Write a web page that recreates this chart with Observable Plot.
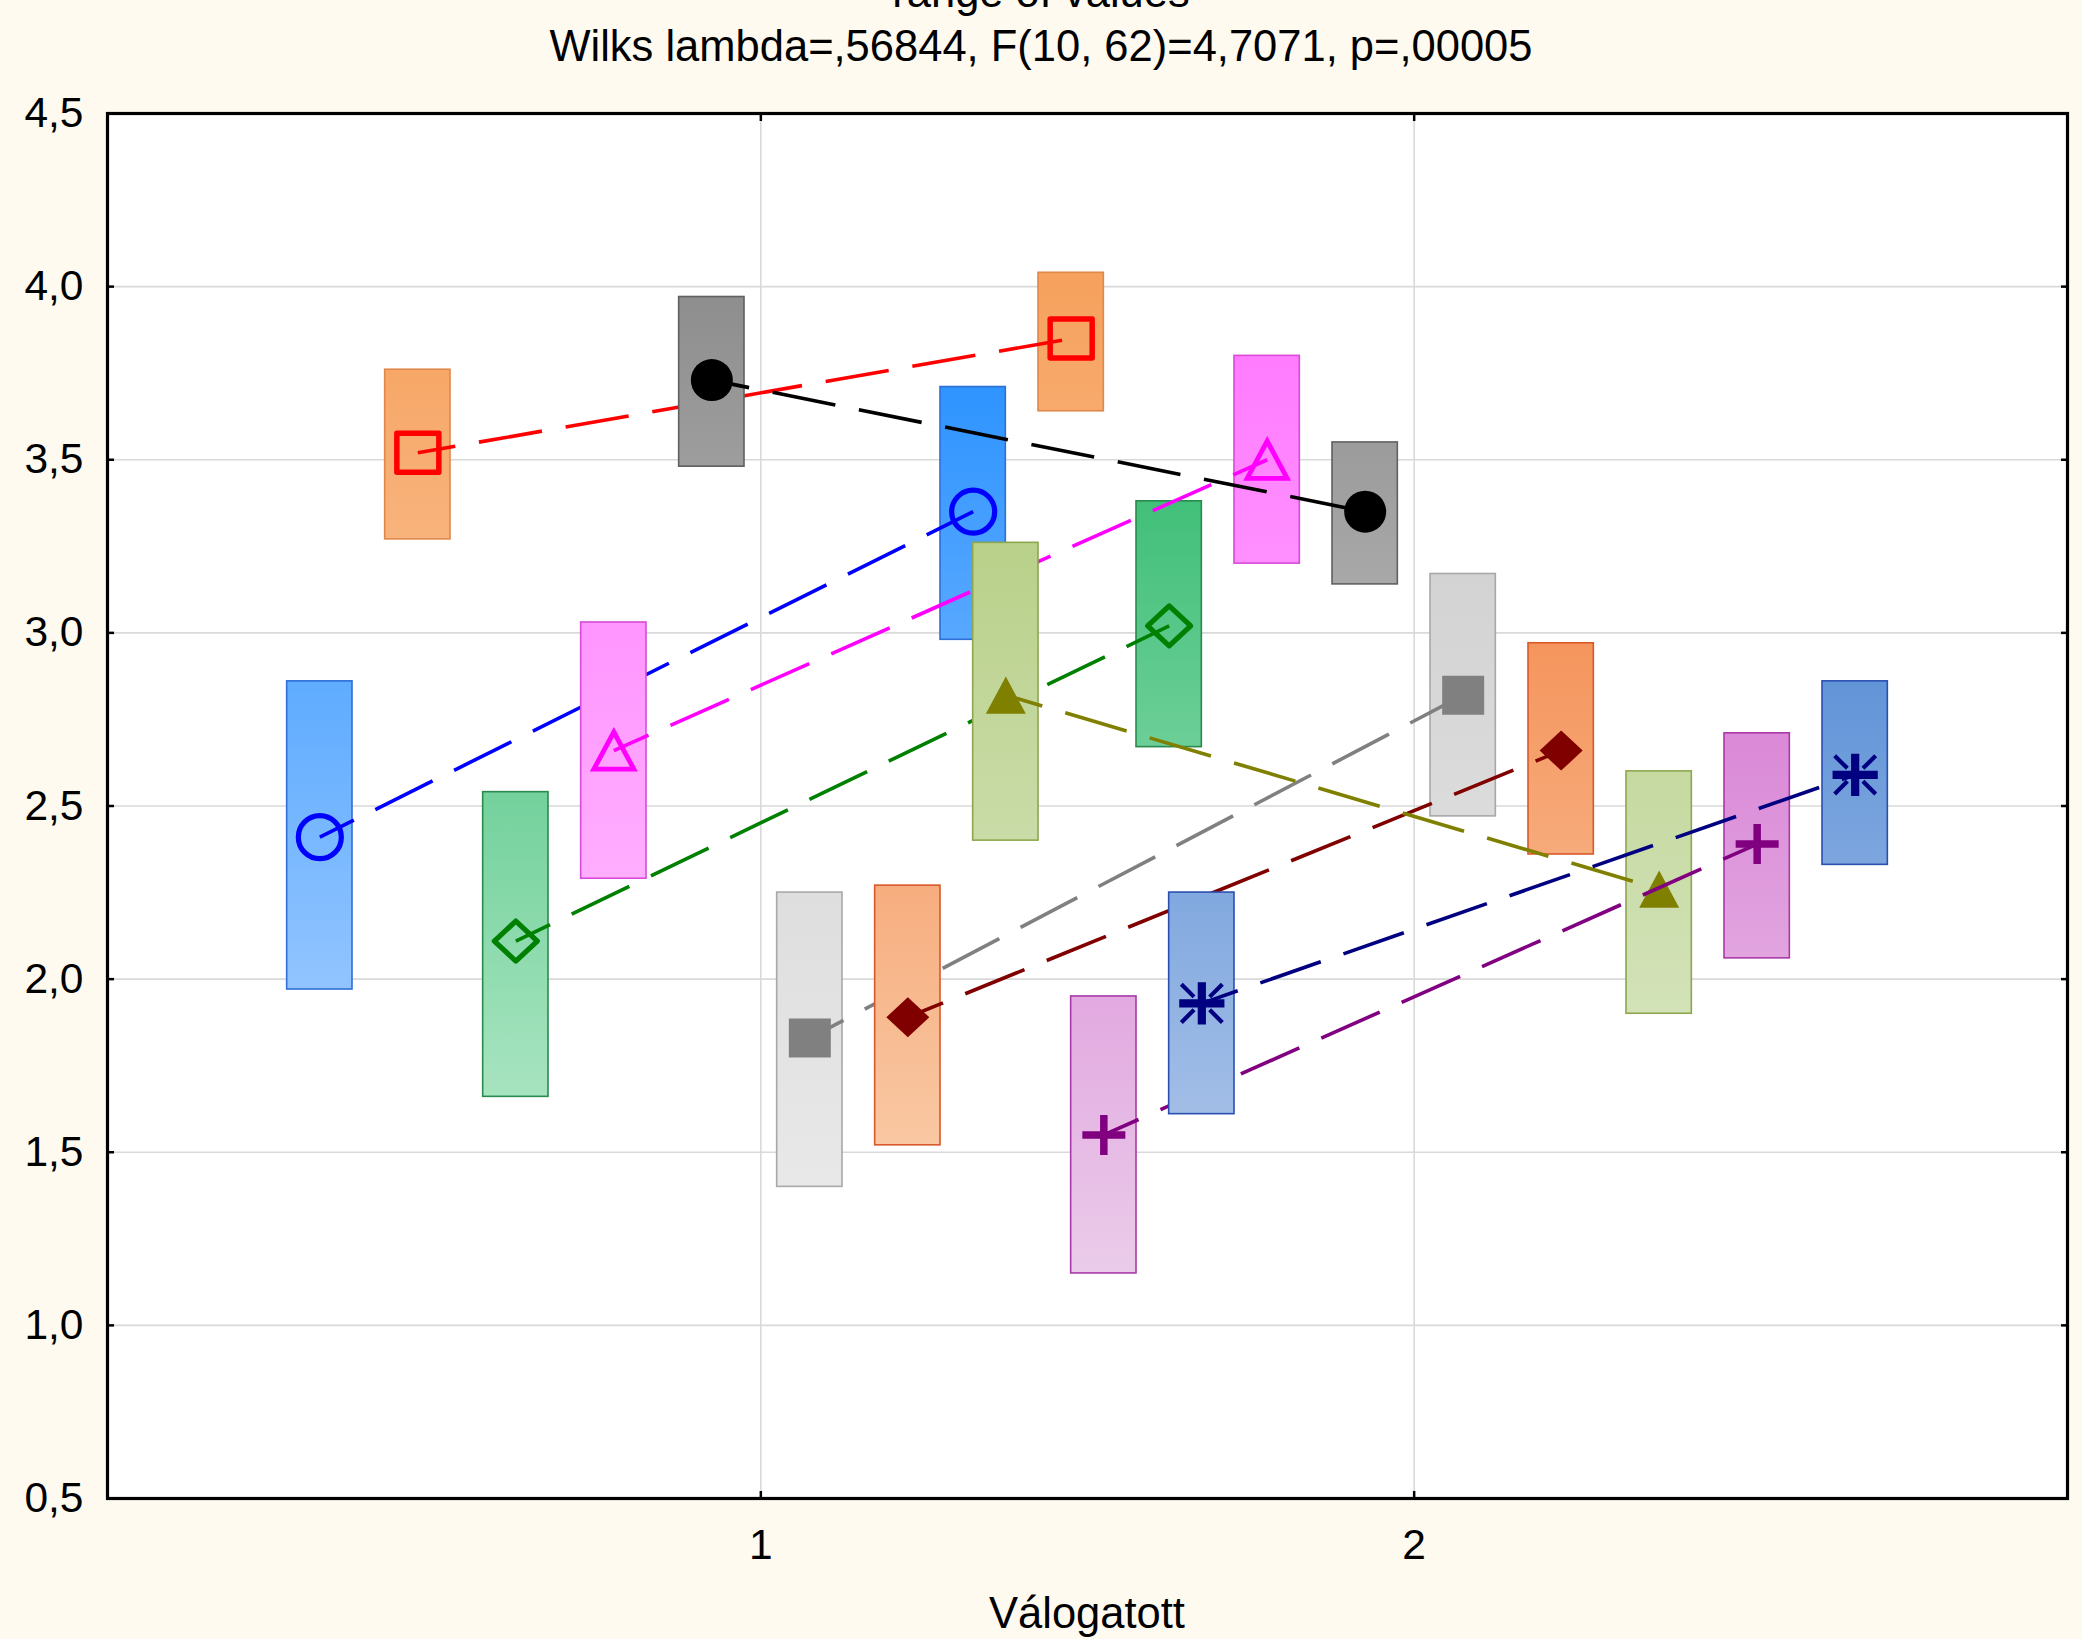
<!DOCTYPE html>
<html>
<head>
<meta charset="utf-8">
<script src="https://cdn.jsdelivr.net/npm/d3@7"></script>
<script src="https://cdn.jsdelivr.net/npm/@observablehq/plot@0.6"></script>
<style>
html, body { margin: 0; padding: 0; background: #fffaf0; }
#chart { position: relative; width: 2082px; height: 1639px; overflow: hidden; background: #fffaf0;
  font-family: "Liberation Sans", Arial, sans-serif; color: #000; }
#plot { position: absolute; left: 0; top: 0; }
.t { position: absolute; left: 0; width: 2082px; text-align: center; font-size: 43.5px; line-height: 43.5px; white-space: nowrap; }
</style>
</head>
<body>
<div id="chart">
  <div id="plot"></div>
  <div class="t" style="top:-29.5px">range of values</div>
  <div class="t" style="top:24.5px">Wilks lambda=,56844, F(10, 62)=4,7071, p=,00005</div>
  <div class="t" style="top:1591.5px; left:107px; width:1960px">Válogatott</div>
</div>
<script>
// ---------------- data ----------------
const seriesNames = ["S1", "S2", "S3", "S4", "S5", "S6", "S7", "S8", "S9", "S10"];
const groups = [1, 2];
// group 1 (Válogatott = 1)
const mean1 = [2.41, 3.52, 2.11, 2.66, 3.73, 1.83, 1.89, 2.82, 1.55, 1.93];
const lo1   = [1.97, 3.27, 1.66, 2.29, 3.48, 1.40, 1.52, 2.40, 1.15, 1.61];
const hi1   = [2.86, 3.76, 2.54, 3.03, 3.97, 2.25, 2.27, 3.26, 1.95, 2.25];
// group 2 (Válogatott = 2)
const mean2 = [3.35, 3.85, 3.02, 3.50, 3.35, 2.82, 2.66, 2.26, 2.39, 2.59];
const lo2   = [2.98, 3.64, 2.67, 3.20, 3.14, 2.47, 2.36, 1.90, 2.06, 2.33];
const hi2   = [3.71, 4.04, 3.38, 3.80, 3.55, 3.17, 2.97, 2.60, 2.71, 2.86];
const yTicks = [0.5, 1.0, 1.5, 2.0, 2.5, 3.0, 3.5, 4.0, 4.5];
const xTicks = [1, 2];

// ---------------- styles ----------------
const lineColors = ["#0000ff", "#ff0000", "#008000", "#ff00ff", "#000000", "#808080", "#800000", "#808000", "#800080", "#000080"];
const boxTopColors = ["#017eff", "#f5964a", "#00a84c", "#ff64ff", "#7d7d7d", "#c3c3c3", "#f06013", "#a1c060", "#c83cc3", "#0c5dc4"];
const boxBottomColors = ["#e5edff", "#fff4ec", "#ebfcef", "#ffe9ff", "#fcfcfc", "#f3f3f3", "#fcebd4", "#eef5e8", "#f1e7f1", "#dce3f4"];
const boxStrokes = ["#2f6fd6", "#e0884a", "#2a8a4e", "#d84ad8", "#606060", "#a8a8a8", "#d9582a", "#8ea64e", "#a83aa8", "#2a4fb0"];
const markerKinds = ["circle", "square", "diamond", "triangle", "dot", "square", "diamond", "triangle", "plus", "asterisk"];
const markerFilled = [false, false, false, false, true, true, true, true, false, true];

const K = 0.93;
const rad = (s) => Math.sqrt(s / Math.PI);
const symbols = {
  circle: {draw(c, s) { const r = rad(s); c.moveTo(r, 0); c.arc(0, 0, r, 0, 2 * Math.PI); }},
  dot: {draw(c, s) { const r = rad(s); c.moveTo(r, 0); c.arc(0, 0, r, 0, 2 * Math.PI); }},
  square: {draw(c, s) { const r = rad(s); c.rect(-r, -r * K, 2 * r, 2 * r * K); }},
  diamond: {draw(c, s) { const r = rad(s); c.moveTo(0, -r * K); c.lineTo(r, 0); c.lineTo(0, r * K); c.lineTo(-r, 0); c.closePath(); }},
  triangle: {draw(c, s) { const r = rad(s); c.moveTo(0, -r * K); c.lineTo(r, r * K); c.lineTo(-r, r * K); c.closePath(); }},
  plus: {draw(c, s) { const r = rad(s); c.moveTo(-r, 0); c.lineTo(r, 0); c.moveTo(0, -r * K); c.lineTo(0, r * K); }},
  asterisk: {draw(c, s) {
    const r = rad(s);
    c.rect(-r, -2, 2 * r, 4);
    c.rect(-2, -r * K, 4, 2 * r * K);
    for (const sx of [-1, 1]) for (const sy of [-1, 1]) {
      c.moveTo(sx * r * 0.38, sy * r * K * 0.34);
      c.lineTo(sx * r, sy * r * K);
    }
  }}
};
const markerR = {circle: 21.5, dot: 21, square: 21, diamond: 21.5, triangle: 20, plus: 21.5, asterisk: 20.5};
const markerStrokeW = {circle: 5.2, dot: 0, square: 5.5, diamond: 5.2, triangle: 4.8, plus: 7.5, asterisk: 4.2};

// ---------------- table ----------------
const rows = [];
seriesNames.forEach((name, i) => {
  const dodge = (i - 4.5) * 0.15;
  rows.push({series: name, i, group: groups[0], x: groups[0] + dodge, mean: mean1[i], lo: lo1[i], hi: hi1[i]});
  rows.push({series: name, i, group: groups[1], x: groups[1] + dodge, mean: mean2[i], lo: lo2[i], hi: hi2[i]});
});

const defs = (index, scales, values, dimensions) => {
  const d = d3.create("svg:defs");
  seriesNames.forEach((n, i) => {
    const g = d.append("linearGradient")
      .attr("id", "boxgrad" + i)
      .attr("gradientUnits", "userSpaceOnUse")
      .attr("x1", 0).attr("x2", 0)
      .attr("y1", scales.y(4.5)).attr("y2", scales.y(0.5));
    g.append("stop").attr("offset", "0").attr("stop-color", boxTopColors[i]);
    g.append("stop").attr("offset", "1").attr("stop-color", boxBottomColors[i]);
  });
  return d.node();
};

const seriesMarks = seriesNames.flatMap((name, i) => {
  const data = rows.filter(r => r.i === i);
  const kind = markerKinds[i];
  const filled = markerFilled[i];
  return [
    Plot.rect(data, {
      x1: d => d.x - 0.05, x2: d => d.x + 0.05, y1: "lo", y2: "hi",
      fill: `url(#boxgrad${i})`, stroke: boxStrokes[i], strokeWidth: 1.6
    }),
    Plot.line(data, {
      x: "x", y: "mean", stroke: lineColors[i], strokeWidth: 3.6,
      strokeDasharray: "64,24", strokeDashoffset: 26, strokeLinecap: "butt"
    }),
    Plot.dot(data, {
      x: "x", y: "mean", r: markerR[kind], symbol: symbols[kind],
      fill: filled ? lineColors[i] : "none",
      stroke: (kind === "dot" || (filled && kind !== "asterisk")) ? "none" : lineColors[i],
      strokeWidth: markerStrokeW[kind],
      strokeLinejoin: kind === "square" || kind === "diamond" ? "round" : "miter"
    })
  ];
});

const fmt = d => d.toFixed(1).replace(".", ",");

const chart = Plot.plot({
  width: 2082,
  height: 1639,
  marginTop: 113,
  marginBottom: 141,
  marginLeft: 107,
  marginRight: 15,
  style: {background: "transparent", fontFamily: "'Liberation Sans', Arial, sans-serif", fontSize: "42px", color: "#000"},
  x: {domain: [0, 3]},
  y: {domain: [0.5, 4.5]},
  marks: [
    defs,
    Plot.frame({fill: "white", stroke: "none"}),
    Plot.gridY(yTicks.slice(1, -1), {stroke: "#d9d9d9", strokeOpacity: 1, strokeWidth: 1.6}),
    Plot.gridX(xTicks, {stroke: "#d9d9d9", strokeOpacity: 1, strokeWidth: 1.6}),
    ...seriesMarks,
    Plot.axisY(yTicks, {anchor: "left", tickSize: 0, tickPadding: 24, tickFormat: fmt, fontSize: 42.5, label: null}),
    Plot.axisY(yTicks, {anchor: "left", tickSize: -7, tickFormat: () => "", label: null, strokeWidth: 2.5}),
    Plot.axisY(yTicks, {anchor: "right", tickSize: -7, tickFormat: () => "", label: null, strokeWidth: 2.5}),
    Plot.axisX(xTicks, {anchor: "bottom", tickSize: 0, tickPadding: 30, tickFormat: d => String(d), fontSize: 42.5, label: null}),
    Plot.axisX(xTicks, {anchor: "bottom", tickSize: -7, tickFormat: () => "", label: null, strokeWidth: 2.5}),
    Plot.axisX(xTicks, {anchor: "top", tickSize: -7, tickFormat: () => "", label: null, strokeWidth: 2.5}),
    Plot.frame({stroke: "#000", strokeWidth: 3.2})
  ]
});
document.getElementById("plot").appendChild(chart);
</script>
</body>
</html>
